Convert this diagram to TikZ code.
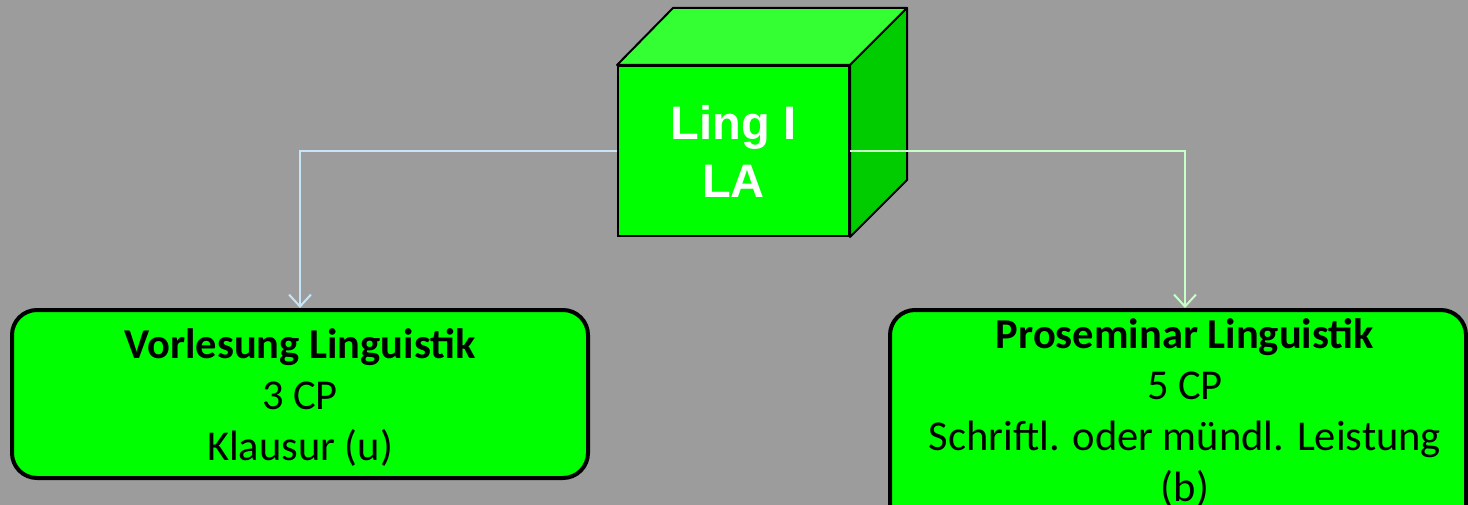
\documentclass[tikz,border=0pt]{standalone}
\usepackage{fontspec}
\setmainfont{Carlito}
\newfontfamily\arialfont{Liberation Sans}
\usetikzlibrary{arrows.meta,calc}
\definecolor{bg}{RGB}{156,156,156}
\definecolor{boxgreen}{RGB}{0,255,0}
\definecolor{topgreen}{RGB}{51,255,51}
\definecolor{sidegreen}{RGB}{0,204,0}
\definecolor{linkblue}{RGB}{200,228,248}
\definecolor{linkgreen}{RGB}{200,255,200}
\tikzset{
  cubefront/.style={draw=black, line width=2pt, fill=boxgreen, minimum width=231pt, minimum height=170pt, inner sep=0pt, align=center, text=white, font=\arialfont\bfseries\fontsize{47}{58}\selectfont},
  cubeface/.style={draw=black, line width=2pt, line join=round},
  modbox/.style={draw=black, line width=4pt, fill=boxgreen, rounded corners=25pt, minimum width=576pt, inner sep=0pt},
  boxtext/.style={align=center, inner sep=0pt, font=\fontsize{42.5}{51}\selectfont},
  link/.style={line width=2.5pt, -{Straight Barb[length=12pt,width=22pt,line width=2pt]}},
}
\begin{document}
\begin{tikzpicture}[x=1pt,y=-1pt]
\useasboundingbox (0,0) rectangle (1468,505);
\clip (0,0) rectangle (1468,505);
\fill[bg] (0,0) rectangle (1468,505);
% cube
\node[cubefront] (cube) at (733.5,151) {Ling I\\LA};
\filldraw[cubeface, fill=topgreen] (cube.north west) -- ($(cube.north west)+(56,-57)$) -- ($(cube.north east)+(57,-57)$) -- (cube.north east) -- cycle;
\filldraw[cubeface, fill=sidegreen] (cube.north east) -- ($(cube.north east)+(57,-57)$) -- ($(cube.south east)+(57,-57)$) -- (cube.south east) -- cycle;
% boxes
\node[modbox, minimum height=168pt] (vl) at (300,394) {};
\node[boxtext] (vltext) at (300,398) {\textbf{Vorlesung Linguistik}\\3 CP\\Klausur (u)};
\node[modbox, minimum height=220pt] (ps) at (1178,420) {};
\node[boxtext] (pstext) at (1185,413) {\textbf{Proseminar Linguistik}\\5 CP\\Schriftl. oder mündl. Leistung\\(b)};
\coordinate (psin) at ([xshift=7pt]ps.north);
% connectors
\draw[link, linkblue] (cube.west) -| (vl.north);
\draw[link, linkgreen] (cube.east) -| (psin);
\end{tikzpicture}
\end{document}
